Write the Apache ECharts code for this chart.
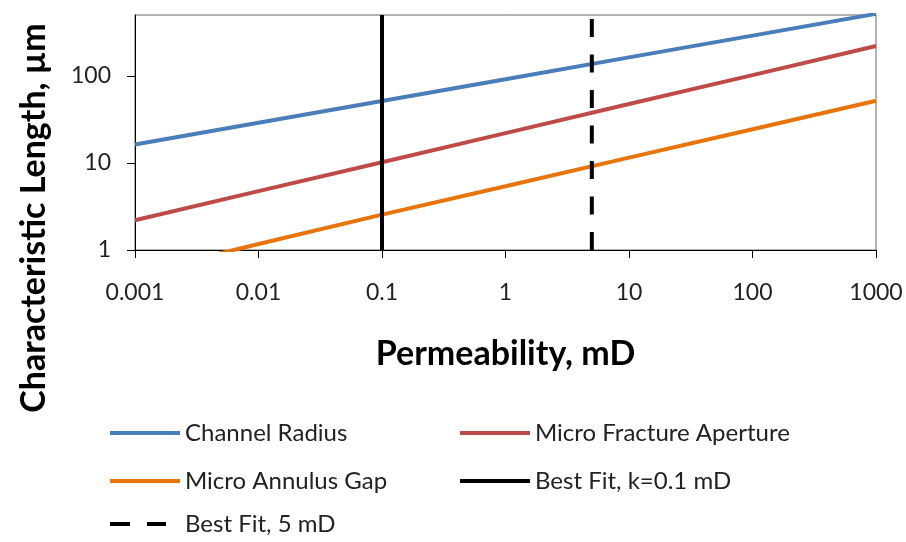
<!DOCTYPE html>
<html>
<head>
<meta charset="utf-8">
<script src="https://cdn.jsdelivr.net/npm/echarts@6/dist/echarts.min.js"></script>
<style>html,body{margin:0;padding:0;background:#fff}#c{width:906px;height:542px}</style>
</head>
<body>
<div id="c"></div>
<script>
const permeability = [0.001, 0.01, 0.1, 1, 10, 100, 1000];
const channelRadius = [16.3, 29, 51.5, 91.5, 163, 290, 515];
const microFracture = [2.2, 4.75, 10.2, 22, 47.5, 102, 220];
const microAnnulus = [0.53, 1.17, 2.55, 5.4, 11.5, 24.4, 51.8];
const bestFitK = [0.1, 0.1];
const bestFit5 = [5, 5];
const bestFitY = [1, 500];
const xTicks = [0.001, 0.01, 0.1, 1, 10, 100, 1000];
const yTicks = [1, 10, 100];

const FONT = 'Lato';
const pair = (xs, ys) => xs.map((x, i) => [x, ys[i]]);

const chart = echarts.init(document.getElementById('c'));
const lineSeries = (name, ys, color) => ({
  name, type: 'line', data: pair(permeability, ys), showSymbol: false, symbol: 'none',
  lineStyle: { color, width: 4 }, itemStyle: { color }, clip: true, z: 2
});
const vSeries = (name, xs, type) => ({
  name, type: 'line', data: pair(xs, bestFitY), showSymbol: false, symbol: 'none',
  lineStyle: { color: '#000', width: 4, type }, itemStyle: { color: '#000' }, clip: true, z: 3
});
const legendText = { fontFamily: FONT, fontSize: 24, color: '#222', padding: [0, 0, 0, 0] };
const legendBase = { orient: 'vertical', itemHeight: 4, itemGap: 24, padding: 0,
  textStyle: legendText, icon: 'rect' };
chart.setOption({
  animation: false,
  backgroundColor: '#fff',
  grid: { left: 135, right: 30, top: 15, bottom: 292, show: true, borderColor: '#666', borderWidth: 1,
    containLabel: false, outerBoundsMode: 'none' },
  xAxis: {
    type: 'log', min: 0.001, max: 1000, logBase: 10,
    name: 'Permeability, mD', nameLocation: 'middle', nameGap: 87,
    nameTextStyle: { fontFamily: FONT, fontSize: 34, fontWeight: 'bold', color: '#000' },
    axisLine: { show: true, lineStyle: { color: '#000', width: 1 } },
    axisTick: { show: true, length: 8, inside: false, lineStyle: { color: '#000' }, customValues: xTicks },
    axisLabel: { fontFamily: FONT, fontSize: 23, color: '#222', margin: 31, customValues: xTicks,
      formatter: v => String(v) },
    splitLine: { show: false }, minorTick: { show: false }
  },
  yAxis: {
    type: 'log', min: 1, max: 500, logBase: 10,
    name: 'Characteristic Length, µm', nameLocation: 'middle', nameGap: 84,
    nameTextStyle: { fontFamily: FONT, fontSize: 34, fontWeight: 'bold', color: '#000',
      padding: [0, 171, 0, 0] },
    axisLine: { show: true, lineStyle: { color: '#000', width: 1 } },
    axisTick: { show: true, length: 8, lineStyle: { color: '#000' }, customValues: yTicks },
    axisLabel: { fontFamily: FONT, fontSize: 23, color: '#222', margin: 24, customValues: yTicks,
      formatter: v => String(v) },
    splitLine: { show: false }, minorTick: { show: false }
  },
  legend: [
    Object.assign({}, legendBase, { left: 110, top: 421, itemWidth: 70,
      data: ['Channel Radius', 'Micro Annulus Gap'] }),
    Object.assign({}, legendBase, { left: 110, top: 512, itemWidth: 56,
      textStyle: Object.assign({}, legendText, { padding: [0, 0, 0, 14] }),
      data: [{ name: 'Best Fit, 5 mD', icon: 'path://M0,0h20v4h-20zM37,0h19v4h-19z' }] }),
    Object.assign({}, legendBase, { left: 460, top: 421, itemWidth: 70,
      data: ['Micro Fracture Aperture', 'Best Fit, k=0.1 mD'] })
  ],
  series: [
    lineSeries('Channel Radius', channelRadius, '#4A7EBB'),
    lineSeries('Micro Fracture Aperture', microFracture, '#BE4B48'),
    lineSeries('Micro Annulus Gap', microAnnulus, '#E8740C'),
    vSeries('Best Fit, k=0.1 mD', bestFitK, 'solid'),
    vSeries('Best Fit, 5 mD', bestFit5, [18, 17.5])
  ]
});
</script>
</body>
</html>
